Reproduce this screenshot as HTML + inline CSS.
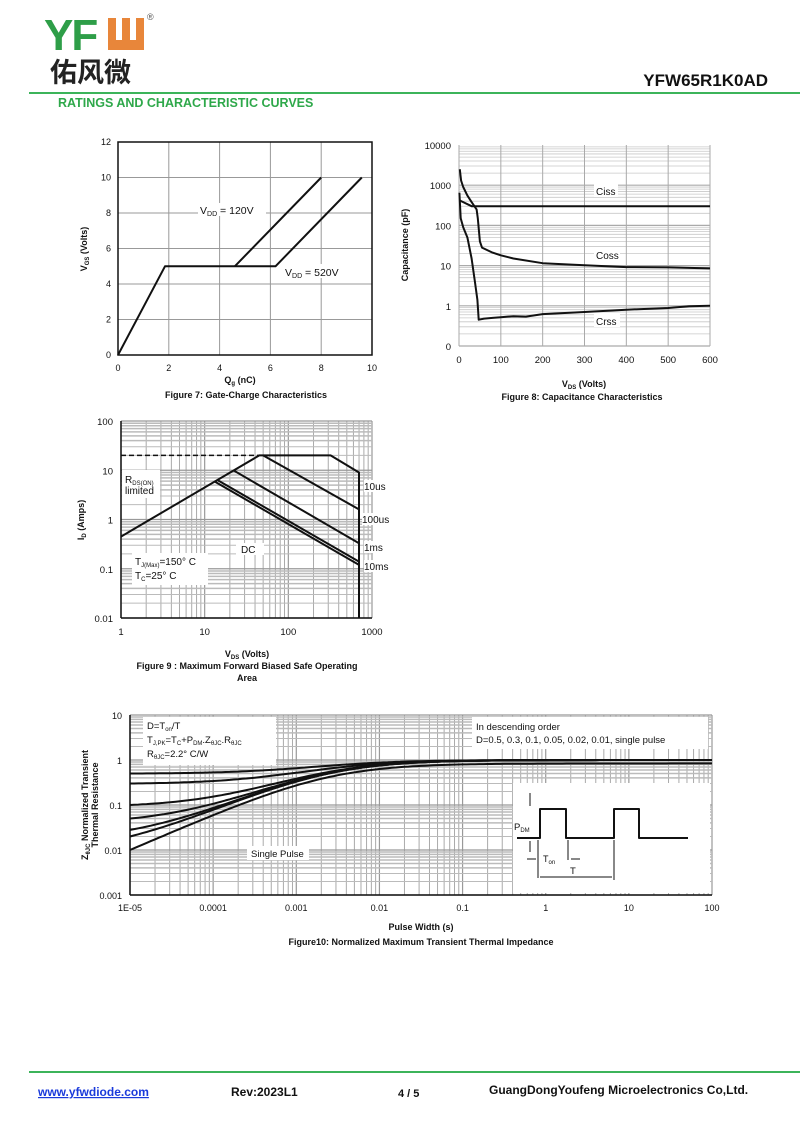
<!DOCTYPE html>
<html><head><meta charset="utf-8">
<style>
html,body{margin:0;padding:0;background:#fff;}
body{width:800px;height:1131px;position:relative;overflow:hidden;font-family:"Liberation Sans",Arial,sans-serif;}
svg{position:absolute;left:0;top:0;}
</style></head>
<body>
<svg id="s" width="800" height="1131" viewBox="0 0 800 1131" xmlns="http://www.w3.org/2000/svg" font-family="Liberation Sans, Arial, sans-serif">
<text x="44" y="50" font-size="44" font-weight="bold" fill="#2e9e48" letter-spacing="-2">YF</text>
<path d="M108 18 h8 v22 h6 v-22 h8 v22 h6 v-22 h8 v32 h-36 z" fill="#e8863a"/>
<text x="147" y="20" font-size="9" fill="#555">®</text>
<text x="50" y="82" font-size="27" font-weight="bold" fill="#222" font-family="Noto Sans CJK SC, sans-serif">佑风微</text>
<text x="768" y="86" font-size="17" font-weight="bold" fill="#111" text-anchor="end">YFW65R1K0AD</text>
<rect x="29" y="92" width="771" height="2" fill="#3cb45a"/>
<text x="58" y="107" font-size="12.5" font-weight="bold" fill="#2ea84a">RATINGS AND CHARACTERISTIC CURVES</text>
<g id="g"></g>
<rect x="29" y="1071" width="771" height="2" fill="#3cb45a"/>
<text x="38" y="1096" font-size="12" font-weight="bold" fill="#1a3adb" text-decoration="underline">www.yfwdiode.com</text>
<text x="231" y="1096" font-size="12" font-weight="bold" fill="#111">Rev:2023L1</text>
<text x="398" y="1097" font-size="11" font-weight="bold" fill="#111">4 / 5</text>
<text x="489" y="1094" font-size="12" font-weight="bold" fill="#111">GuangDongYoufeng Microelectronics Co,Ltd.</text>
</svg>
<script>
var o='';
function L(x1,y1,x2,y2,c,w,extra){o+='<line x1="'+x1+'" y1="'+y1+'" x2="'+x2+'" y2="'+y2+'" stroke="'+c+'" stroke-width="'+w+'" '+(extra||'')+'/>';}
function T(x,y,t,sz,anc,wt,extra){o+='<text x="'+x+'" y="'+y+'" font-size="'+sz+'" text-anchor="'+(anc||'start')+'" font-weight="'+(wt||'normal')+'" fill="#111" '+(extra||'')+'>'+t+'</text>';}
function P(pts,w,extra){o+='<polyline fill="none" stroke="#111" stroke-width="'+(w||2)+'" stroke-linejoin="round" points="'+pts.map(function(p){return p[0].toFixed(1)+','+p[1].toFixed(1)}).join(' ')+'" '+(extra||'')+'/>';}
function R(x,y,w,h){o+='<rect x="'+x+'" y="'+y+'" width="'+w+'" height="'+h+'" fill="#fff"/>';}
var lg=Math.log10;
// Fig7
(function(){var x0=118,x1=372,y0=355,y1=142;
 var X=function(v){return x0+(x1-x0)*v/10},Y=function(v){return y0-(y0-y1)*v/12};
 for(var i=2;i<10;i+=2)L(X(i),y1,X(i),y0,'#999',1);
 for(var j=2;j<12;j+=2)L(x0,Y(j),x1,Y(j),'#999',1);
 o+='<rect x="'+x0+'" y="'+y1+'" width="'+(x1-x0)+'" height="'+(y0-y1)+'" fill="none" stroke="#111" stroke-width="1.5"/>';
 for(i=0;i<=10;i+=2)T(X(i),y0+16,i,9,'middle');
 for(j=0;j<=12;j+=2)T(x0-7,Y(j)+3,j,9,'end');
 P([[X(0),Y(0)],[X(1.85),Y(5)],[X(6.2),Y(5)],[X(9.6),Y(10)]]);
 P([[X(4.6),Y(5)],[X(8),Y(10)]]);
 R(198,203,68,13);T(200,214,'V<tspan font-size="7" dy="2">DD</tspan><tspan dy="-2"> = 120V</tspan>',10.5);
 R(283,264,80,14);T(285,276,'V<tspan font-size="7" dy="2">DD</tspan><tspan dy="-2"> = 520V</tspan>',10.5);
 T(240,383,'Q<tspan font-size="6" dy="2">g</tspan><tspan dy="-2"> (nC)</tspan>',9,'middle','bold');
 T(246,398,'Figure 7: Gate-Charge Characteristics',9,'middle','bold');
 T(0,0,'V<tspan font-size="6" dy="2">GS</tspan><tspan dy="-2"> (Volts)</tspan>',9,'middle','bold','transform="translate(87,249) rotate(-90)"');
})();
// Fig8
(function(){var x0=459,x1=710,yt=145,yb=346,dec=(yb-yt)/5;
 var X=function(v){return x0+(x1-x0)*v/600},Y=function(v){return yb-(lg(v)+1)*dec};
 for(var d=-1;d<4;d++)for(var k=1;k<10;k++){var y=Y(k*Math.pow(10,d));L(x0,y,x1,y,k==1?'#aaa':'#c8c8c8',k==1?1.2:0.8);}
 for(var i=100;i<600;i+=100)L(X(i),yt,X(i),yb,'#aaa',1);
 L(x0,yt,x0,yb,'#aaa',1);L(x1,yt,x1,yb,'#aaa',1);
 for(i=0;i<=600;i+=100)T(X(i),yb+17,i,9.5,'middle');
 var lb=['0','1','10','100','1000','10000'];for(d=0;d<6;d++)T(x0-8,yb-d*dec+4,lb[d],9.5,'end');
 var c=function(a){return a.map(function(p){return [X(p[0]),Y(p[1])]})};
 P(c([[1,420],[10,380],[30,300],[600,300]]));
 P(c([[2,2500],[5,1300],[10,900],[20,550],[30,380],[42,250],[45,150],[50,40],[55,28],[80,21],[100,18],[130,15],[200,11.5],[300,10.2],[400,9.2],[500,9],[600,8.5]]));
 P(c([[1,650],[4,150],[10,90],[20,50],[30,15],[38,4],[44,1.4],[47,0.45],[60,0.48],[80,0.5],[100,0.52],[130,0.55],[160,0.54],[200,0.62],[300,0.7],[400,0.8],[500,0.88],[550,0.97],[600,1]]));
 R(594,184,24,13);T(596,195,'Ciss',10);
 R(594,248,26,13);T(596,259,'Coss',10);
 R(594,314,26,13);T(596,325,'Crss',10);
 T(584,387,'V<tspan font-size="6" dy="2">DS</tspan><tspan dy="-2"> (Volts)</tspan>',9,'middle','bold');
 T(582,400,'Figure 8: Capacitance Characteristics',9,'middle','bold');
 T(0,0,'Capacitance (pF)',9,'middle','bold','transform="translate(408,245) rotate(-90)"');
})();
// Fig9
(function(){var x0=121,x1=372,yt=421,yb=618,dx=(x1-x0)/3,dy=(yb-yt)/4;
 var X=function(v){return x0+lg(v)*dx},Y=function(v){return yb-(lg(v)+2)*dy};
 for(var d=0;d<3;d++)for(var k=1;k<10;k++){var x=X(k*Math.pow(10,d));L(x,yt,x,yb,k==1?'#999':'#aaa',k==1?1.2:1);}
 L(x1,yt,x1,yb,'#999',1.2);
 for(d=-2;d<2;d++)for(k=1;k<10;k++){var y=Y(k*Math.pow(10,d));L(x0,y,x1,y,k==1?'#999':'#bbb',k==1?1.2:(k<4?1:1.5));}
 L(x0,yt,x1,yt,'#999',1.2);
 L(x0,yt,x0,yb,'#111',1.5);L(x0,yb,x1,yb,'#111',1.5);
 var xl=['1','10','100','1000'];for(d=0;d<4;d++)T(x0+d*dx,yb+17,xl[d],9.5,'middle');
 var yl=['0.01','0.1','1','10','100'];for(d=0;d<5;d++)T(x0-8,yb-d*dy+4,yl[d],9.5,'end');
 var c=function(a){return a.map(function(p){return [X(p[0]),Y(p[1])]})};
 R(122,470,38,28);
 P(c([[1,0.45],[45,20],[320,20],[700,9],[700,0.01]]));
 P(c([[1,20],[45,20]]),1.5,'stroke-dasharray="5,3"');
 P(c([[50,20],[700,1.6]]));
 P(c([[22,10],[700,0.33]]));
 P(c([[13,6],[700,0.12]]));
 P(c([[14.5,6.2],[700,0.14]]));
 T(125,483,'R<tspan font-size="6" dy="2">DS(ON)</tspan>',10);T(125,494,'limited',10);
 R(236,543,28,12);T(241,553,'DC',10);
 R(132,553,76,32);T(135,565,'T<tspan font-size="6" dy="2">J(Max)</tspan><tspan dy="-2">=150° C</tspan>',10);T(135,579,'T<tspan font-size="6" dy="2">C</tspan><tspan dy="-2">=25° C</tspan>',10);
 R(364,480,28,12);T(364,490,'10us',10);
 R(362,513,32,12);T(362,523,'100us',10);
 R(364,541,24,12);T(364,551,'1ms',10);
 R(364,560,28,12);T(364,570,'10ms',10);
 T(247,657,'V<tspan font-size="6" dy="2">DS</tspan><tspan dy="-2"> (Volts)</tspan>',9,'middle','bold');
 T(247,669,'Figure 9 : Maximum Forward Biased Safe Operating',9,'middle','bold');
 T(247,681,'Area',9,'middle','bold');
 T(0,0,'I<tspan font-size="6" dy="2">D</tspan><tspan dy="-2"> (Amps)</tspan>',9,'middle','bold','transform="translate(84,520) rotate(-90)"');
})();
// Fig10
(function(){var x0=130,x1=712,yt=715,yb=895,dx=(x1-x0)/7,dy=(yb-yt)/4;
 var X=function(v){return x0+(lg(v)+5)*dx},Y=function(v){return yb-(lg(v)+3)*dy};
 for(var d=-5;d<2;d++)for(var k=1;k<10;k++){var x=X(k*Math.pow(10,d));L(x,yt,x,yb,k==1?'#999':'#aaa',k==1?1.2:1);}
 L(x1,yt,x1,yb,'#999',1.2);
 for(d=-3;d<1;d++)for(k=1;k<10;k++){var y=Y(k*Math.pow(10,d));L(x0,y,x1,y,k==1?'#999':'#bbb',k==1?1.2:(k<4?1:1.5));}
 L(x0,yt,x1,yt,'#999',1.2);
 L(x0,yt,x0,yb,'#111',1.5);L(x0,yb,x1,yb,'#111',1.5);
 var xl=['1E-05','0.0001','0.001','0.01','0.1','1','10','100'];for(d=0;d<8;d++)T(x0+d*dx,yb+16,xl[d],9,'middle');
 var yl=['0.001','0.01','0.1','1','10'];for(d=0;d<5;d++)T(x0-8,yb-d*dy+4,yl[d],9,'end');
 R(143,717,133,48);
 R(472,717,236,32);
 R(513,783,197,110);
 var Ds=[0.5,0.3,0.1,0.05,0.02,0.01,0];
 var lefts=[0.5,0.3,0.1,0.05,0.028,0.02,0.01];
 for(var i=0;i<Ds.length;i++){var pts=[];
  for(var e=-5;e<=2.0001;e+=0.05){var t=Math.pow(10,e);var r=1/(1+Math.pow(0.0025/t,0.8));var r0=1/(1+Math.pow(250,0.8));
   var base=lefts[i];var z=base+(1-base)*(r-r0)/(1-r0);if(i==6)z=r/r0*0.01; if(z>1)z=1; if(i==6)z=Math.min(1,Math.max(z,0.01));
   pts.push([X(t),Y(z)]);}
  P(pts,2);}
 T(147,729,'D=T<tspan font-size="6" dy="2">on</tspan><tspan dy="-2">/T</tspan>',9.5);
 T(147,743,'T<tspan font-size="6" dy="2">J,PK</tspan><tspan dy="-2">=T</tspan><tspan font-size="6" dy="2">C</tspan><tspan dy="-2">+P</tspan><tspan font-size="6" dy="2">DM</tspan><tspan dy="-2">.Z</tspan><tspan font-size="6" dy="2">θJC</tspan><tspan dy="-2">.R</tspan><tspan font-size="6" dy="2">θJC</tspan>',9.5);
 T(147,757,'R<tspan font-size="6" dy="2">θJC</tspan><tspan dy="-2">=2.2° C/W</tspan>',9.5);
 T(476,730,'In descending order',9.5);
 T(476,743,'D=0.5, 0.3, 0.1, 0.05, 0.02, 0.01, single pulse',9.5);
 R(247,846,62,14);T(251,857,'Single Pulse',9.5);
 P([[517,838],[540,838],[540,809],[566,809],[566,838],[614,838],[614,809],[639,809],[639,838],[688,838]]);
 L(530,793,530,806,'#111',1);L(530,841,530,852,'#111',1);
 T(514,830,'P<tspan font-size="6" dy="2">DM</tspan>',9.5);
 L(538,840,538,878,'#111',1);L(568,840,568,860,'#111',1);L(614,840,614,880,'#111',1);
 L(527,859,536,859,'#111',1);L(571,859,580,859,'#111',1);
 T(543,862,'T<tspan font-size="6" dy="2">on</tspan>',9);
 L(540,877,612,877,'#111',1);T(570,874,'T',9.5);
 T(421,930,'Pulse Width (s)',9,'middle','bold');
 T(421,945,'Figure10: Normalized Maximum Transient Thermal Impedance',9,'middle','bold');
 T(0,0,'Z<tspan font-size="6" dy="2">θJC</tspan><tspan dy="-2"> Normalized Transient</tspan>',9,'middle','bold','transform="translate(88,805) rotate(-90)"');
 T(0,0,'Thermal Resistance',9,'middle','bold','transform="translate(98,805) rotate(-90)"');
})();
document.getElementById('g').innerHTML=o;
</script>
</body></html>
